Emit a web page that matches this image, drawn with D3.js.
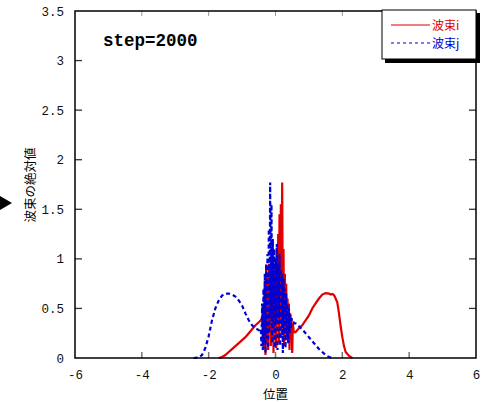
<!DOCTYPE html>
<html>
<head>
<meta charset="utf-8">
<script src="https://cdn.jsdelivr.net/npm/d3@7"></script>
<style>
	body { margin: 0; background: #fff; }
	svg { display: block; }
	text { font-family: "Liberation Mono", "DejaVu Sans Mono", monospace; }
	.jp { font-family: "Noto Sans CJK JP", sans-serif; }
</style>
</head>
<body>
<svg width="486" height="402"></svg>
<script>
// tick values
const xTicks = [-6, -4, -2, 0, 2, 4, 6];
const yTicks = [0, 0.5, 1, 1.5, 2, 2.5, 3, 3.5];

// smooth wings of the two packets, [position, |psi|]
const blueLeft = [[-2.45, 0], [-2.3, 0.005], [-2.2, 0.03], [-2.1, 0.1], [-2.0, 0.22], [-1.9, 0.38],
	[-1.8, 0.5], [-1.7, 0.58], [-1.6, 0.63], [-1.5, 0.65], [-1.4, 0.65], [-1.3, 0.64], [-1.2, 0.62],
	[-1.1, 0.58], [-1.0, 0.53], [-0.9, 0.45], [-0.8, 0.38], [-0.7, 0.33], [-0.6, 0.3], [-0.5, 0.28]];
const blueRight = [[0.6, 0.35], [0.7, 0.32], [0.8, 0.29], [0.9, 0.25], [1.0, 0.21], [1.1, 0.17],
	[1.2, 0.13], [1.3, 0.09], [1.4, 0.06], [1.5, 0.03], [1.6, 0.01], [1.7, 0]];
const redLeft = [[-1.7, 0], [-1.6, 0.01], [-1.5, 0.03], [-1.4, 0.06], [-1.3, 0.09], [-1.2, 0.12],
	[-1.1, 0.15], [-1.0, 0.18], [-0.9, 0.21], [-0.8, 0.25], [-0.7, 0.29], [-0.6, 0.33], [-0.5, 0.36]];
const redRight = [[0.6, 0.26], [0.7, 0.3], [0.8, 0.33], [0.9, 0.38], [1.0, 0.43], [1.1, 0.5],
	[1.2, 0.55], [1.3, 0.6], [1.4, 0.64], [1.5, 0.655], [1.6, 0.65], [1.65, 0.64], [1.7, 0.645],
	[1.75, 0.635], [1.8, 0.6], [1.85, 0.56], [1.9, 0.45], [1.95, 0.32], [2.0, 0.21], [2.05, 0.12],
	[2.1, 0.06], [2.2, 0.02], [2.3, 0]];

// noisy core around x = 0
const coreX = [-0.44, -0.42, -0.40, -0.38, -0.36, -0.34, -0.32, -0.30, -0.28, -0.26, -0.24, -0.22,
	-0.20, -0.18, -0.16, -0.14, -0.12, -0.10, -0.08, -0.06, -0.04, -0.02, 0.00, 0.02, 0.04, 0.06,
	0.08, 0.10, 0.12, 0.14, 0.16, 0.18, 0.20, 0.22, 0.24, 0.26, 0.28, 0.30, 0.32, 0.34, 0.36, 0.38,
	0.40, 0.42, 0.44, 0.46, 0.48, 0.50, 0.52, 0.54, 0.56];
const blueCore = [0.30, 0.12, 0.55, 0.08, 0.70, 0.15, 0.85, 0.05, 0.95, 0.20, 1.05, 0.10,
	1.30, 0.25, 1.77, 0.40, 1.55, 0.15, 1.20, 0.30, 1.10, 0.10, 1.00, 0.35, 1.15, 0.08,
	0.95, 0.40, 1.05, 0.12, 0.90, 0.30, 0.85, 0.05, 0.80, 0.25, 0.70, 0.10, 0.65, 0.20, 0.55, 0.15,
	0.50, 0.25, 0.45, 0.30, 0.40, 0.37, 0.36, 0.36, 0.35];
const redCore = [0.38, 0.39, 0.36, 0.42, 0.40, 0.10, 0.75, 0.03, 0.90, 0.15, 0.85, 0.08,
	0.95, 0.30, 0.80, 0.12, 0.90, 0.20, 1.00, 0.05, 0.85, 0.25, 0.95, 0.10, 1.10, 0.35,
	1.25, 0.15, 1.45, 0.40, 1.55, 0.20, 1.77, 0.30, 1.10, 0.12, 0.85, 0.40, 0.75, 0.18, 0.60, 0.35,
	0.55, 0.08, 0.45, 0.20, 0.40, 0.05, 0.35, 0.28, 0.26];

const legendLabels = ["波束i", "波束j"];
const stepLabel = "step=2000";

const svg = d3.select("svg");
const width = 486, height = 402;
const margin = { top: 11, right: 10, bottom: 44, left: 75 };

const xScale = d3.scaleLinear().domain([-6, 6]).range([margin.left, width - margin.right]);
const yScale = d3.scaleLinear().domain([0, 3.5]).range([height - margin.bottom, margin.top]);

const blue = blueLeft.concat(coreX.map((x, i) => [x, blueCore[i]]), blueRight);
const red = redLeft.concat(coreX.map((x, i) => [x, redCore[i]]), redRight);

const line = d3.line().x(d => xScale(d[0])).y(d => yScale(d[1]));

svg.append("path")
	.attr("d", line(red))
	.attr("fill", "none")
	.attr("stroke", "#e00000")
	.attr("stroke-width", 2.2);

svg.append("path")
	.attr("d", line(blue))
	.attr("fill", "none")
	.attr("stroke", "#0000d0")
	.attr("stroke-width", 2.2)
	.attr("stroke-dasharray", "4,3");

// axes
const xAxis = d3.axisBottom(xScale).tickValues(xTicks).tickFormat(d => String(d))
	.tickSizeInner(0).tickSizeOuter(0).tickPadding(12);
const yAxis = d3.axisLeft(yScale).tickValues(yTicks).tickFormat(d => String(d))
	.tickSizeInner(0).tickSizeOuter(0).tickPadding(11);

const xg = svg.append("g")
	.attr("transform", `translate(0, ${height - margin.bottom})`)
	.call(xAxis);
const yg = svg.append("g")
	.attr("transform", `translate(${margin.left}, 0)`)
	.call(yAxis);

[xg, yg].forEach(g => {
	g.select(".domain").remove();
	g.selectAll("text").attr("fill", "#111").style("font-size", "12.5px");
});

// inward ticks
svg.append("g").selectAll("line")
	.data(xTicks.slice(1, -1))
	.enter().append("line")
	.attr("x1", d => xScale(d)).attr("x2", d => xScale(d))
	.attr("y1", yScale(0)).attr("y2", yScale(0) - 6)
	.attr("stroke", "#777").attr("stroke-width", 1.5);
svg.append("g").selectAll("line")
	.data(xTicks.slice(1, -1))
	.enter().append("line")
	.attr("x1", d => xScale(d)).attr("x2", d => xScale(d))
	.attr("y1", yScale(3.5)).attr("y2", yScale(3.5) + 5)
	.attr("stroke", "#999").attr("stroke-width", 1);
svg.append("g").selectAll("line")
	.data(yTicks.slice(1, -1))
	.enter().append("line")
	.attr("x1", xScale(-6)).attr("x2", xScale(-6) + 7)
	.attr("y1", d => yScale(d)).attr("y2", d => yScale(d))
	.attr("stroke", "#333").attr("stroke-width", 1.3);
svg.append("g").selectAll("line")
	.data(yTicks.slice(1, -1))
	.enter().append("line")
	.attr("x1", xScale(6)).attr("x2", xScale(6) - 7)
	.attr("y1", d => yScale(d)).attr("y2", d => yScale(d))
	.attr("stroke", "#333").attr("stroke-width", 1.3);

// frame
svg.append("rect")
	.attr("x", xScale(-6)).attr("y", yScale(3.5))
	.attr("width", xScale(6) - xScale(-6)).attr("height", yScale(0) - yScale(3.5))
	.attr("fill", "none").attr("stroke", "#000").attr("stroke-width", 1.5);

// axis labels
svg.append("text")
	.attr("class", "jp")
	.attr("x", xScale(0)).attr("y", 399)
	.attr("text-anchor", "middle")
	.style("font-size", "12.5px")
	.text("位置");

svg.append("text")
	.attr("class", "jp")
	.attr("transform", "translate(35, 185) rotate(-90)")
	.attr("text-anchor", "middle")
	.style("font-size", "12.5px")
	.text("波束の絶対値");

// stray arrow at the left edge
svg.append("path")
	.attr("d", "M0,196 L12,203 L0,210 Z")
	.attr("fill", "#000");

// step label
svg.append("text")
	.attr("x", 103).attr("y", 46)
	.style("font-size", "17.5px")
	.style("font-weight", "bold")
	.attr("fill", "#000")
	.text(stepLabel);

// legend
const lg = svg.append("g").attr("transform", "translate(382, 10)");
lg.append("rect").attr("x", 3).attr("y", 3).attr("width", 95).attr("height", 50).attr("fill", "#000");
lg.append("rect").attr("x", 0).attr("y", 0).attr("width", 94).attr("height", 49)
	.attr("fill", "#fff").attr("stroke", "#000").attr("stroke-width", 1);

const legendColors = ["#e00000", "#0000d0"];
const legendDash = [null, "3,3"];
legendLabels.forEach((label, i) => {
	const y = 15 + i * 18;
	lg.append("line")
		.attr("x1", 9).attr("x2", 48).attr("y1", y).attr("y2", y)
		.attr("stroke", legendColors[i]).attr("stroke-width", 1.2)
		.attr("stroke-dasharray", legendDash[i]);
	lg.append("text")
		.attr("class", "jp")
		.attr("x", 50).attr("y", y + 4.5)
		.attr("fill", legendColors[i])
		.style("font-size", "12px")
		.text(label);
});
</script>
</body>
</html>
